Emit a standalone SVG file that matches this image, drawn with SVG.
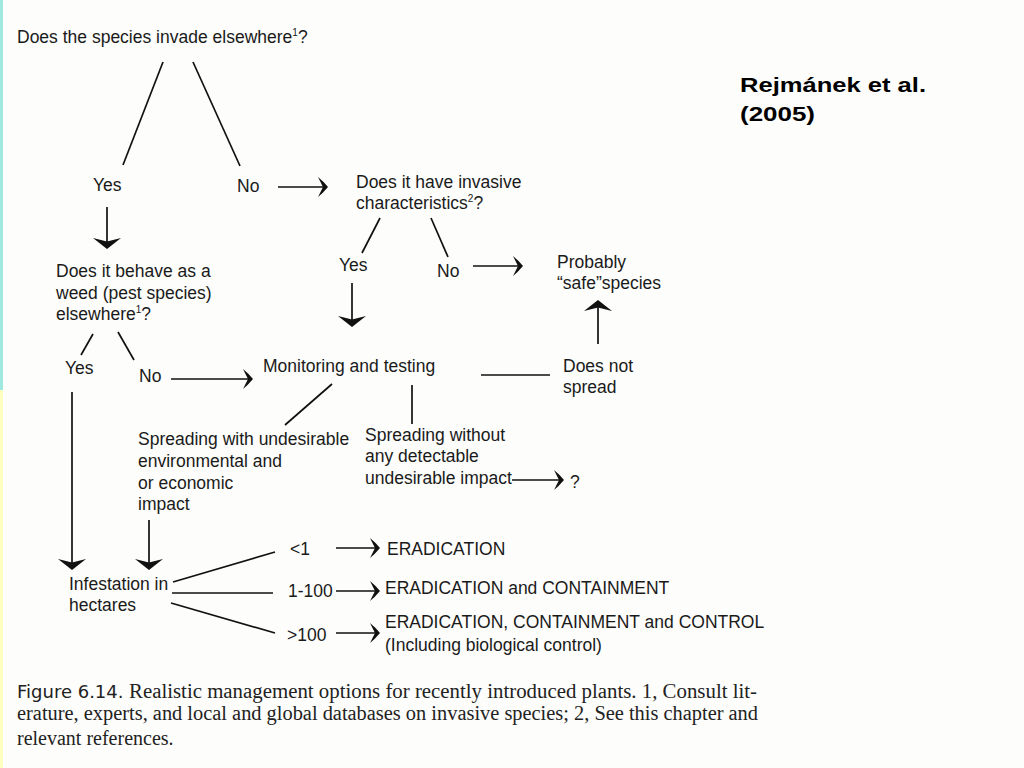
<svg xmlns="http://www.w3.org/2000/svg" width="1024" height="768" viewBox="0 0 1024 768">
<defs>
<style>
.t{font-family:"Liberation Sans",Arial,sans-serif;font-size:17.5px;fill:#1a1a1a}
.ln{stroke:#111;stroke-width:1.7;fill:none}
.cap{font-family:"Liberation Serif","Times New Roman",serif;font-size:20px;fill:#222}
.rf{font-family:"Liberation Sans",Arial,sans-serif;font-weight:bold;font-size:21px;fill:#000}
</style>
<marker id="h" viewBox="0 0 10 20" markerWidth="10" markerHeight="20" refX="9" refY="10" orient="auto" markerUnits="userSpaceOnUse">
<path d="M0,0 Q5,4 10,10 Q5,16 0,20 L5,10 z" fill="#111"/>
</marker>
<marker id="w" viewBox="0 0 11 28" markerWidth="11" markerHeight="28" refX="10" refY="14" orient="auto" markerUnits="userSpaceOnUse">
<path d="M0,0 L11,14 L0,28 L3.5,14 z" fill="#111"/>
</marker>
</defs>
<rect width="1024" height="768" fill="#fdfdfb"/>
<rect x="0" y="0" width="3" height="390" fill="#9ee8e0"/>
<rect x="0" y="390" width="3" height="378" fill="#ffffc0"/>

<g id="connectors">
<line class="ln" x1="163" y1="62" x2="123" y2="165"/>
<line class="ln" x1="193" y1="62" x2="240" y2="166"/>
<line class="ln" x1="278" y1="187" x2="327" y2="187" marker-end="url(#h)"/>
<line class="ln" x1="380" y1="218" x2="362" y2="253"/>
<line class="ln" x1="431" y1="218" x2="448" y2="257"/>
<line class="ln" x1="473" y1="266" x2="522" y2="266" marker-end="url(#h)"/>
<line class="ln" x1="352" y1="283" x2="352" y2="326" marker-end="url(#w)"/>
<line class="ln" x1="598" y1="344" x2="598" y2="301" marker-end="url(#w)"/>
<line class="ln" x1="481" y1="375" x2="550" y2="375"/>
<line class="ln" x1="107" y1="207" x2="107" y2="248" marker-end="url(#w)"/>
<line class="ln" x1="93" y1="334" x2="81" y2="355"/>
<line class="ln" x1="118" y1="332" x2="134" y2="360"/>
<line class="ln" x1="171" y1="379" x2="252" y2="379" marker-end="url(#h)"/>
<line class="ln" x1="332" y1="384" x2="285" y2="425"/>
<line class="ln" x1="412" y1="385" x2="412" y2="424"/>
<line class="ln" x1="512" y1="480" x2="563" y2="480" marker-end="url(#h)"/>
<line class="ln" x1="149" y1="520" x2="149" y2="569" marker-end="url(#w)"/>
<line class="ln" x1="72" y1="392" x2="72" y2="569" marker-end="url(#w)"/>
<line class="ln" x1="173" y1="582" x2="275" y2="552"/>
<line class="ln" x1="172" y1="593" x2="273" y2="593"/>
<line class="ln" x1="171" y1="603" x2="275" y2="633"/>
<line class="ln" x1="336" y1="548" x2="379" y2="548" marker-end="url(#h)"/>
<line class="ln" x1="336" y1="591" x2="379" y2="591" marker-end="url(#h)"/>
<line class="ln" x1="336" y1="633" x2="379" y2="633" marker-end="url(#h)"/>
</g>

<g id="n-invade"><text class="t" x="17" y="43">Does the species invade elsewhere<tspan font-size="10" dy="-7">1</tspan><tspan dy="7">?</tspan></text></g>
<g id="n-yes1"><text class="t" x="93" y="191">Yes</text></g>
<g id="n-no1"><text class="t" x="237" y="192">No</text></g>
<g id="n-charac"><text class="t" x="356" y="188">Does it have invasive</text><text class="t" x="356" y="209">characteristics<tspan font-size="10" dy="-7">2</tspan><tspan dy="7">?</tspan></text></g>
<g id="n-yes2"><text class="t" x="339" y="271">Yes</text></g>
<g id="n-no2"><text class="t" x="437" y="277">No</text></g>
<g id="n-safe"><text class="t" x="557" y="268">Probably</text><text class="t" x="557" y="289">“safe”species</text></g>
<g id="n-weed"><text class="t" x="56" y="277">Does it behave as a</text><text class="t" x="56" y="299">weed (pest species)</text><text class="t" x="56" y="320">elsewhere<tspan font-size="10" dy="-7">1</tspan><tspan dy="7">?</tspan></text></g>
<g id="n-yes3"><text class="t" x="65" y="374">Yes</text></g>
<g id="n-no3"><text class="t" x="139" y="382">No</text></g>
<g id="n-monitor"><text class="t" x="263" y="372">Monitoring and testing</text></g>
<g id="n-notspread"><text class="t" x="563" y="372">Does not</text><text class="t" x="563" y="393">spread</text></g>
<g id="n-undesirable"><text class="t" x="138" y="445">Spreading with undesirable</text><text class="t" x="138" y="467">environmental and</text><text class="t" x="138" y="489">or economic</text><text class="t" x="138" y="510">impact</text></g>
<g id="n-without"><text class="t" x="365" y="441">Spreading without</text><text class="t" x="365" y="462">any detectable</text><text class="t" x="365" y="484">undesirable impact</text></g>
<g id="n-q"><text class="t" x="570" y="488">?</text></g>
<g id="n-infest"><text class="t" x="69" y="590">Infestation in</text><text class="t" x="69" y="611">hectares</text></g>
<g id="n-lt1"><text class="t" x="290" y="555">&lt;1</text></g>
<g id="n-1100"><text class="t" x="288" y="597">1-100</text></g>
<g id="n-gt100"><text class="t" x="287" y="641">&gt;100</text></g>
<g id="n-erad"><text class="t" x="387" y="555">ERADICATION</text></g>
<g id="n-eradcont"><text class="t" x="385" y="594">ERADICATION and CONTAINMENT</text></g>
<g id="n-eradctrl"><text class="t" x="385" y="628">ERADICATION, CONTAINMENT and CONTROL</text><text class="t" x="385" y="651">(Including biological control)</text></g>

<g id="ref"><text class="rf" x="740" y="92" textLength="186" lengthAdjust="spacingAndGlyphs">Rejmánek et al.</text><text class="rf" x="740" y="121" textLength="75" lengthAdjust="spacingAndGlyphs">(2005)</text></g>

<g id="caption">
<text class="cap" x="17" y="698"><tspan font-family="'DejaVu Sans','Liberation Sans',sans-serif" font-size="18">Figure 6.14.</tspan><tspan x="129" textLength="628" lengthAdjust="spacingAndGlyphs">Realistic management options for recently introduced plants. 1, Consult lit-</tspan></text>
<text class="cap" x="17" y="720" textLength="741" lengthAdjust="spacingAndGlyphs">erature, experts, and local and global databases on invasive species; 2, See this chapter and</text>
<text class="cap" x="17" y="745">relevant references.</text>
</g>
</svg>
